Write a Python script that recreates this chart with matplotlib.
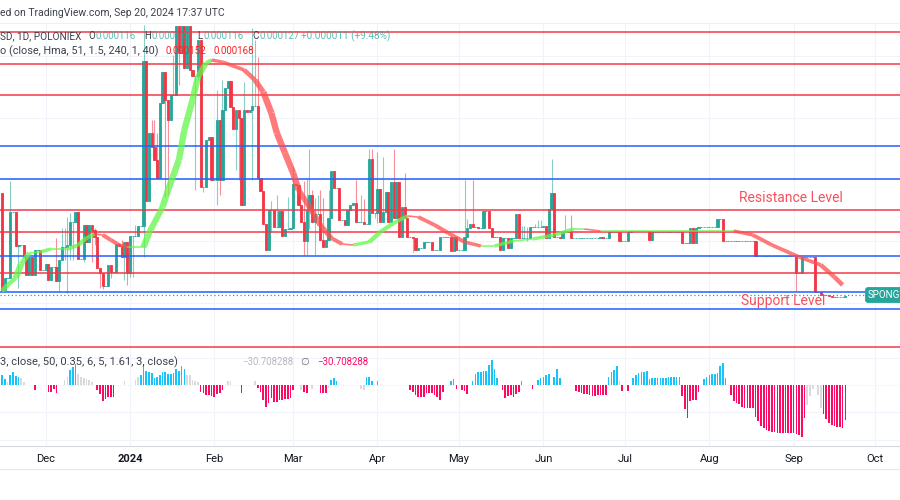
import numpy as np
import pandas as pd
import matplotlib
matplotlib.use('Agg')
import matplotlib.pyplot as plt
import matplotlib.dates as mdates
from matplotlib.lines import Line2D

plt.rcParams['font.family'] = ['Roboto', 'DejaVu Sans']

# prices are in units of 0.000001, one candle per day from 15 Nov 2023
first_day = '2023-11-15'
first_open = 333
closes = [
    139, 163, 163, 295, 295, 227, 229, 229, 205, 169,
    205, 169, 219, 219, 179, 179, 191, 159, 185, 185,
    157, 199, 225, 225, 229, 275, 275, 295, 201, 201,
    269, 235, 269, 259, 245, 183, 173, 147, 147, 189,
    175, 175, 231, 227, 205, 235, 173, 247, 247, 247,
    267, 267, 597, 317, 453, 425, 399, 363, 513, 575,
    519, 479, 529, 529, 667, 613, 667, 583, 667, 579,
    567, 567, 639, 345, 345, 439, 445, 359, 359, 479,
    359, 499, 543, 557, 505, 461, 499, 483, 309, 499,
    495, 499, 507, 507, 363, 337, 271, 219, 299, 299,
    265, 265, 297, 247, 261, 261, 263, 351, 349, 309,
    275, 237, 299, 329, 275, 291, 291, 239, 225, 239,
    283, 377, 343, 343, 279, 279, 269, 299, 309, 313,
    275, 275, 275, 271, 271, 401, 293, 293, 341, 275,
    295, 335, 275, 355, 283, 355, 245, 305, 283, 245,
    245, 243, 219, 223, 223, 235, 235, 235, 219, 219,
    219, 245, 245, 245, 245, 217, 245, 219, 219, 219,
    245, 263, 271, 265, 265, 263, 263, 297, 297, 263,
    245, 245, 245, 219, 243, 243, 223, 243, 243, 291,
    243, 243, 243, 243, 265, 265, 265, 265, 265, 267,
    243, 301, 333, 245, 245, 243, 255, 255, 255, 243,
    243, 243, 243, 243, 243, 243, 243, 243, 243, 243,
    245, 243, 243, 255, 255, 255, 255, 237, 237, 237,
    255, 257, 257, 257, 257, 257, 257, 257, 239, 255,
    255, 255, 255, 255, 255, 255, 255, 255, 255, 255,
    233, 233, 233, 263, 233, 263, 265, 265, 265, 265,
    265, 265, 265, 281, 281, 237, 237, 237, 237, 237,
    237, 237, 237, 237, 237, 237, 237, 207, 207, 207,
    207, 207, 207, 207, 207, 207, 207, 207, 207, 207,
    207, 207, 173, 173, 205, 205, 205, 205, 205, 135,
    135, 129, 129, 129, 127, 125, 125, 125, 125, 125, 127,
]
# wicks that stick out of the body, by candle number
wick_highs = {3: 357, 20: 243, 22: 263, 23: 263, 24: 285, 25: 293, 34: 263, 44: 239,
              49: 269, 52: 669, 55: 479, 56: 479, 57: 453, 63: 609, 79: 539, 81: 559,
              89: 555, 92: 663, 93: 639, 94: 605, 99: 317, 101: 329, 105: 325, 107: 385,
              111: 357, 112: 363, 113: 421, 114: 339, 115: 323, 116: 329, 117: 339,
              118: 323, 120: 339, 130: 359, 132: 329, 133: 321, 135: 421, 136: 421,
              138: 415, 140: 405, 144: 421, 148: 373, 170: 359, 171: 281, 173: 359,
              191: 267, 192: 267, 193: 265, 196: 271, 197: 279, 198: 279, 202: 401,
              207: 289, 209: 289}
wick_lows = {6: 143, 21: 137, 23: 199, 24: 133, 25: 199, 26: 199, 30: 195, 33: 195,
             34: 229, 36: 143, 37: 141, 40: 163, 45: 159, 46: 149, 47: 165, 48: 165,
             52: 205, 56: 399, 60: 325, 61: 329, 65: 549, 71: 339, 72: 559, 74: 335,
             79: 309, 80: 329, 86: 379, 87: 359, 92: 359, 99: 255, 111: 209, 112: 209,
             113: 261, 115: 209, 137: 283, 138: 273, 151: 215, 193: 237, 292: 137}

hma_days = [0, 2, 5, 7, 10, 14, 18, 24, 28, 31, 34, 37, 40, 43, 46, 52, 54, 59, 61, 65,
            67, 70, 72, 75, 77, 81, 86, 89, 93, 96, 99, 101, 104, 107, 109, 113, 117,
            121, 125, 129, 135, 139, 144, 149, 153, 159, 164, 170, 176, 181, 188, 195,
            203, 210, 214, 220, 232, 249, 264, 269, 276, 283, 293, 301, 306, 309]
hma_values = [137, 149, 163, 191, 213, 215, 221, 221, 229, 243, 251, 249, 239, 229, 225,
              225, 253, 305, 339, 399, 459, 519, 565, 593, 599, 595, 585, 579, 559, 535,
              493, 453, 413, 373, 339, 305, 269, 243, 231, 229, 235, 255, 273, 287, 285,
              269, 253, 235, 227, 227, 237, 241, 249, 261, 261, 257, 257, 257, 257, 257,
              249, 229, 205, 189, 165, 149]

red_levels = [656, 592, 529, 300, 255, 173, 25]
blue_levels = [428, 361, 208, 136, 102]
last_price_line = 130

osc_days = [0, 1, 2, 3, 4, 5, 6, 7, 8, 12, 17, 18, 19, 20, 23, 24, 25, 26, 27, 28, 29, 30, 31, 32, 33,
            35, 36, 37, 38, 39, 40, 41, 45, 49, 50, 51, 52, 53, 54, 55, 56, 57, 58, 59, 60, 61, 62, 63,
            64, 65, 66, 67, 68, 69, 70, 71, 72, 73, 74, 75, 76, 77, 78, 79, 80, 81, 83, 84, 88, 93, 94,
            95, 96, 97, 98, 99, 100, 101, 102, 103, 104, 105, 106, 107, 110, 111, 112, 114, 117, 118,
            119, 120, 121, 122, 123, 132, 133, 134, 135, 136, 138, 150, 151, 152, 153, 154, 155, 156,
            157, 158, 159, 160, 161, 162, 165, 166, 167, 169, 170, 171, 173, 174, 175, 176, 177, 178,
            179, 180, 181, 182, 184, 185, 186, 187, 188, 189, 190, 191, 195, 197, 198, 199, 200, 201,
            203, 204, 205, 211, 212, 213, 214, 215, 216, 217, 218, 219, 220, 221, 222, 223, 224, 225,
            226, 227, 228, 230, 232, 233, 234, 235, 236, 237, 238, 239, 240, 241, 242, 243, 244, 245,
            246, 247, 248, 249, 250, 251, 252, 253, 254, 255, 256, 258, 259, 260, 261, 262, 263, 264,
            265, 266, 268, 269, 270, 271, 272, 273, 274, 275, 276, 277, 278, 279, 280, 281, 282, 283,
            284, 285, 286, 287, 288, 289, 290, 291, 292, 293, 294, 295, 296, 297, 298, 300, 301, 302,
            303, 304, 305, 306, 307, 308, 309, 310]
osc_values = [8.8, 5, 2.9, 8.8, 11.7, 8.2, 6.7, 6.4, 2.9, -4.4, -6.4, -5.8, -3.8, -6.7, 4.4, 6.7, 13.1,
              16, 18.2, 9.6, 6.7, 5.8, 5, 4.4, 2.9, -4.4, -8.2, -14, -12.5, -10.8, -10.8, -10.2, 3.5,
              4.4, 6.7, 8.8, 18.2, 12.3, 11.7, 10.8, 5.8, 7.3, 8.8, 11.7, 11.7, 9.3, 9.3, 10.2, 13.7,
              12.6, 16.6, 13.7, 8.8, 8.8, 4.4, 3.8, 2.9, -5.8, -6.7, -8.8, -8.8, -9.6, -10.8, -8.2,
              -7.3, -4.4, 3.5, 3.5, -6.7, 3.5, -2.9, -5.8, -13.1, -19, -16, -11.7, -14.6, -14.6, -13.1,
              -13.1, -12.6, -12.6, -11.7, -4.4, -4.4, -5.8, -6.7, -3.8, -6.7, -6.7, -7.3, -2.9, 4.4,
              6.4, 3.8, -3.8, -4.4, 6.7, 6.7, 3.5, 3.5, -4.4, -5.8, -8.8, -10.2, -10.8, -10.2, -7.3,
              -7.3, -7.3, -8.8, -10.8, -13.1, -5.8, 3.8, 5, -3.5, -4.4, -5.3, -8.2, 3.5, 9.6, 11.1,
              11.7, 12.3, 12.3, 17.5, 22, 14, 5.8, -4.4, -11.1, -9.3, -8.8, -10.2, -7.9, -6.4, 3.5,
              -3.5, 4.4, 5.8, 7.3, 8.8, 9.3, 7.3, 14, 6.4, -5.3, -5.8, -7.3, -8.2, -8.2, -8.8, -9.6,
              -9.6, -8.8, -8.8, -8.8, -8.8, 7.3, 11.7, 13.1, 16.6, 3.8, -5.3, -5.3, 5.8, 8.8, 10.2,
              11.1, 11.7, 12.3, 5, 5.8, 6.4, 6.4, 6.4, 6.4, 6.4, 7.3, 7.3, 7.3, 7.3, 7.3, -9.6, -21,
              -28.6, -13.7, -13.1, -13.1, -5.8, 5, 7.3, 8.8, 9.3, 9.6, 10.8, 16.6, 19.5, 6.4, -8.8,
              -13.7, -15.5, -16.9, -19, -19.8, -20.4, -20.4, -20.4, -27.7, -31.5, -35.9, -37.4, -39.4,
              -40.3, -40.9, -41.5, -41.8, -41.8, -41.8, -41.8, -42.3, -42.3, -42.3, -43.2, -43.8, -45.3,
              -28.6, -17.5, -9.3, -3.8, -8.8, -20.4, -25.4, -30, -33.6, -35, -35.9, -36.5, -37, -37.4,
              -30.7]
# gray stretches of the oscillator, all other bars are blue above zero and pink below
osc_gray_days = [2, 7, 8, 23, 24, 28, 29, 30, 31, 32, 33, 45, 49, 50, 68, 69, 70, 71, 72, 83, 84,
                 93, 110, 114, 120, 132, 133, 227, 296, 297, 298, 300, 301]

month_ticks = ['2023-12-01', '2024-01-01', '2024-02-01', '2024-03-01', '2024-04-01', '2024-05-01',
               '2024-06-01', '2024-07-01', '2024-08-01', '2024-09-01', '2024-10-01']
month_labels = ['Dec', '2024', 'Feb', 'Mar', 'Apr', 'May', 'Jun', 'Jul', 'Aug', 'Sep', 'Oct']

TEAL = '#26a69a'
RED = '#f23645'
BLUE = '#2962ff'
GRID = '#f0f3fa'
TEXT = '#131722'


def place_text(fig, x, y, s, **kw):
    # x and y counted in pixels from the top left of the picture
    kw.setdefault('va', 'center')
    return fig.text(x / 900, 1 - y / 500, s, **kw)


fig = plt.figure(figsize=(9, 5), dpi=100)
ax = fig.add_axes([0, 150 / 500, 1, 327 / 500])
osc = fig.add_axes([0, 54 / 500, 1, 96 / 500], sharex=ax)

t0 = mdates.date2num(pd.Timestamp(first_day))
closes = np.array(closes, dtype=float)
opens = np.r_[first_open, closes[:-1]]
x = t0 + np.arange(len(closes))
colors = [TEAL if c >= o else RED for o, c in zip(opens, closes)]

highs = np.maximum(opens, closes)
lows = np.minimum(opens, closes)
for i, v in wick_highs.items():
    highs[i] = v
for i, v in wick_lows.items():
    lows[i] = v

ax.vlines(x, lows, highs, colors=colors, lw=0.8, alpha=0.55, zorder=2)
ax.bar(x, closes - opens, bottom=opens, width=0.8, color=colors, edgecolor=colors, linewidth=0.6, zorder=3)

for level in red_levels:
    ax.axhline(level, color=RED, lw=1.2, alpha=0.9, zorder=4)
for level in blue_levels:
    ax.axhline(level, color=BLUE, lw=1.2, alpha=0.95, zorder=4)
ax.axhline(last_price_line, color=TEAL, lw=0.9, ls=(0, (1, 2)), zorder=4)

# hull band, green while it is rising and red while it is falling, wider where it moves fast
hma_x = t0 + np.array(hma_days)
for i in range(len(hma_days) - 1):
    rising = hma_values[i + 1] >= hma_values[i]
    slope = abs(hma_values[i + 1] - hma_values[i]) / (hma_days[i + 1] - hma_days[i])
    width = 1.2 if slope < 1 else min(2.2 + slope * 0.2, 4.6)
    ax.plot(hma_x[i:i + 2], hma_values[i:i + 2], color='#63f54a' if rising else '#ff4d4d',
            lw=width, alpha=0.75, solid_capstyle='butt', zorder=5)

ax.set_ylim(19, 673)
ax.set_xlim(t0 - 0.77, t0 + 330.1)
ax.set_yticks([113, 237, 361, 483, 607])
ax.grid(True, color=GRID, lw=0.8)
ax.set_axisbelow(True)
ax.tick_params(length=0, labelbottom=False, labelleft=False)
for side in ax.spines:
    ax.spines[side].set_visible(False)

osc_days = np.array(osc_days)
osc_values = np.array(osc_values)
is_gray = np.isin(osc_days, osc_gray_days)
osc_colors = np.where(is_gray, '#d9dadd', np.where(osc_values > 0, '#17c3fb', '#ff0a63'))
osc.bar(t0 + osc_days, osc_values, width=0.6, color=osc_colors, zorder=3)
osc.axhline(0, color='#e4e6ec', lw=0.6, ls=(0, (1, 2)), zorder=1)
osc.set_ylim(-53.5, 30.7)
osc.set_yticks([23.7, -23.7, -48])
osc.grid(True, color=GRID, lw=0.8)
osc.set_axisbelow(True)
osc.tick_params(axis='y', length=0, labelleft=False)
osc.set_xticks([mdates.date2num(pd.Timestamp(d)) for d in month_ticks])
osc.set_xticklabels(month_labels, fontsize=8, color=TEXT)
osc.get_xticklabels()[1].set_fontweight('bold')
osc.tick_params(axis='x', length=0, pad=5.5)
for side in ['top', 'left', 'right']:
    osc.spines[side].set_visible(False)
osc.spines['bottom'].set_color('#d6d9e0')

fig.add_artist(Line2D([0, 1], [1 - 23 / 500, 1 - 23 / 500], color='#eef0f4', lw=0.8))
fig.add_artist(Line2D([0, 1], [1 - 469 / 500, 1 - 469 / 500], color='#e6e8ed', lw=0.8))

# header and legend rows
place_text(fig, 0, 13, 'ed on TradingView.com, Sep 20, 2024 17:37 UTC', fontsize=7.5, color='#3c4049')
place_text(fig, 0, 36, 'SD, 1D, POLONIEX', fontsize=7.2, color='#3c4049', zorder=9)
for px, label, value in [(88, 'O', '0.000116'), (144, 'H', '0.000127'), (197, 'L', '0.000116'), (252, 'C', '0.000127')]:
    place_text(fig, px, 36, label, fontsize=7, color='#3c4049', zorder=9)
    place_text(fig, px + 7, 36, value, fontsize=6.9, color=TEAL, alpha=0.75, zorder=9)
place_text(fig, 301, 36, '+0.000011 (+9.48%)', fontsize=7.2, color=TEAL, alpha=0.75, zorder=9)
place_text(fig, 0, 51, 'o (close, Hma, 51, 1.5, 240, 1, 40)', fontsize=7.8, color='#3c4049', zorder=9)
place_text(fig, 166, 51, '0.000152', fontsize=7, color='#ff1f1f', zorder=9)
place_text(fig, 213, 51, '0.000168', fontsize=7, color='#ff1f1f', zorder=9)
place_text(fig, 0, 362, '3, close, 50, 0.35, 6, 5, 1.61, 3, close)', fontsize=8, color='#3c4049', zorder=9)
place_text(fig, 242, 362, '\u221230.708288', fontsize=6.9, color='#b8bac0', zorder=9)
place_text(fig, 300, 362, '\u2205', fontsize=7.3, color='#6a6d78', zorder=9)
place_text(fig, 317, 362, '\u221230.708288', fontsize=6.9, color='#ff0a63', zorder=9)

place_text(fig, 739, 198.5, 'Resistance Level', fontsize=10, color='#f5515c', zorder=9)
place_text(fig, 741, 301, 'Support Level', fontsize=10, color='#f5515c', zorder=9)
place_text(fig, 868, 295, 'SPONG', fontsize=7, color='white', zorder=9,
           bbox=dict(boxstyle='round,pad=0.3', fc=TEAL, ec='none'))

fig.savefig('out.png', dpi=100)
